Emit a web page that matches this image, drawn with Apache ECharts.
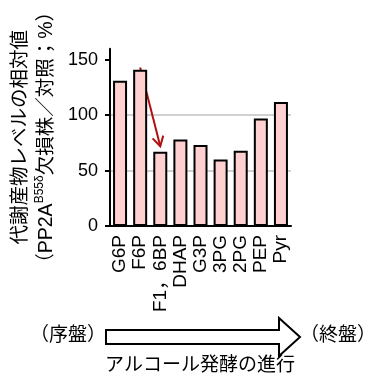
<!DOCTYPE html>
<html><head><meta charset="utf-8">
<script src="https://cdn.jsdelivr.net/npm/echarts@6/dist/echarts.min.js"></script>
<style>html,body{margin:0;padding:0;background:#fff}#c{width:385px;height:386px}</style>
</head><body><div id="c"></div>
<script>
const categories = ['G6P','F6P','F1，6BP','DHAP','G3P','3PG','2PG','PEP','Pyr'];
const values = [131, 141, 67, 78, 73, 60, 68, 97, 112];
const yTicks = [0, 50, 100, 150];
const arrowFrom = [1.47, 143];
const arrowTo = [1.92, 72];

const FONT = "'Liberation Sans', 'Noto Sans CJK JP', sans-serif";
const chart = echarts.init(document.getElementById('c'), null, {renderer: 'canvas'});
chart.setOption({
  animation: false,
  backgroundColor: '#fff',
  grid: {left: 110, right: 94, top: 47, bottom: 160, containLabel: false},
  xAxis: {
    type: 'category', data: categories,
    axisLine: {lineStyle: {color: '#000', width: 2}},
    axisTick: {show: false},
    axisLabel: {rotate: 90, margin: 9, color: '#000', fontSize: 19, fontFamily: FONT, interval: 0}
  },
  yAxis: {
    type: 'value', min: 0, max: 160, interval: 50,
    name: '{a|代謝産物レベルの相対値}\n{a|（PP2A}{s|B55δ}{a|欠損株／対照；%）}',
    nameLocation: 'middle', nameRotate: 90, nameGap: 50,
    nameTextStyle: {
      color: '#000', fontFamily: FONT, fontSize: 19.5, lineHeight: 26,
      rich: {
        a: {fontSize: 19.5, fontFamily: FONT, color: '#000', lineHeight: 26},
        s: {fontSize: 12, fontFamily: FONT, color: '#000', verticalAlign: 'top', lineHeight: 26, padding: [0,0,8,0]}
      }
    },
    axisLine: {show: true, lineStyle: {color: '#000', width: 2}},
    axisTick: {show: true, length: 5, lineStyle: {color: '#000', width: 2}, customValues: yTicks},
    axisLabel: {color: '#000', fontSize: 18, fontFamily: FONT, margin: 12, customValues: yTicks},
    splitLine: {show: true, showMaxLine: false, lineStyle: {color: '#d0d0d0', width: 2}}
  },
  series: [{
    type: 'bar', data: values, barWidth: 14,
    itemStyle: {color: '#ffd0d0', borderColor: '#000', borderWidth: 2}
  }]
});

const p1 = chart.convertToPixel({gridIndex: 0}, arrowFrom);
const p2 = chart.convertToPixel({gridIndex: 0}, arrowTo);
const dx = p2[0]-p1[0], dy = p2[1]-p1[1], L = Math.hypot(dx, dy);
const ux = dx/L, uy = dy/L, hl = 11, ang = Math.PI/6;
function rot(x, y, a){return [x*Math.cos(a)-y*Math.sin(a), x*Math.sin(a)+y*Math.cos(a)];}
const h1 = rot(-ux, -uy, ang), h2 = rot(-ux, -uy, -ang);
const red = '#b01010';

chart.setOption({
  graphic: [
    {type: 'line', shape: {x1: p1[0], y1: p1[1], x2: p2[0], y2: p2[1]}, style: {stroke: red, lineWidth: 2}},
    {type: 'polyline', shape: {points: [[p2[0]+h1[0]*hl, p2[1]+h1[1]*hl], p2, [p2[0]+h2[0]*hl, p2[1]+h2[1]*hl]]}, style: {stroke: red, lineWidth: 2, fill: null}},
    {type: 'polygon', shape: {points: [[106,330],[279,330],[279,318],[300,337],[279,356],[279,344],[106,344]]}, style: {fill: '#fff', stroke: '#000', lineWidth: 2}},
    {type: 'text', left: 30, top: 324, style: {text: '（序盤）', font: "19px 'Noto Sans CJK JP'", fill: '#000'}},
    {type: 'text', left: 300, top: 324, style: {text: '（終盤）', font: "19px 'Noto Sans CJK JP'", fill: '#000'}},
    {type: 'text', left: 105, top: 354, style: {text: 'アルコール発酵の進行', font: "19px 'Noto Sans CJK JP'", fill: '#000'}}
  ]
});
</script></body></html>
